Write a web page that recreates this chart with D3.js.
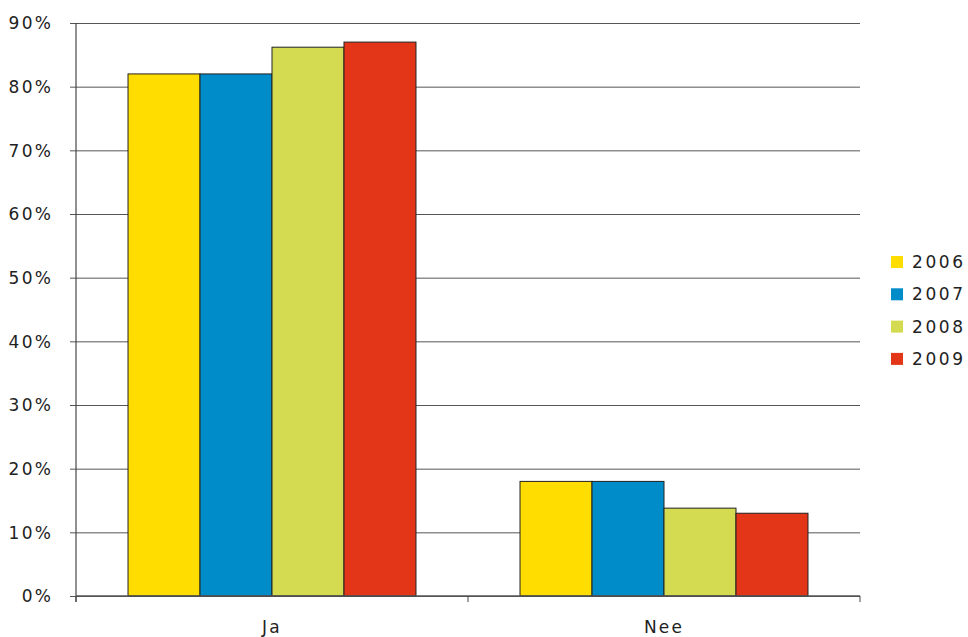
<!DOCTYPE html>
<html>
<head>
<meta charset="utf-8">
<script src="https://cdn.jsdelivr.net/npm/d3@7"></script>
<style>
	body { margin: 0; background: #fff; }
	text { font-family: "DejaVu Sans", sans-serif; fill: #222; }
</style>
</head>
<body>
<div id="visual"></div>
<script>

///// DATA /////
var categories = ["Ja", "Nee"];
var years = ["2006", "2007", "2008", "2009"];
var values2006 = [82, 18];
var values2007 = [82, 18];
var values2008 = [86.2, 13.8];
var values2009 = [87, 13];
var yTicks = [0, 10, 20, 30, 40, 50, 60, 70, 80, 90];
var colors = ["#ffdd00", "#008bc9", "#d4db50", "#e33618"];

var series = [values2006, values2007, values2008, values2009];

///// DIMENSIONS /////
var margins = { left: 76, right: 108, top: 23, bottom: 41 };
var W = 968, H = 637;
var width = W - margins.left - margins.right,
	height = H - margins.top - margins.bottom;

var svg = d3.select('#visual').append('svg')
	.attr('width', W).attr('height', H);

var xScale = d3.scaleBand().domain(categories).range([0, width]).padding(0);
var inner = d3.scaleBand().domain(years)
	.range([xScale.bandwidth() * 0.1327, xScale.bandwidth() * 0.8673]);
var yScale = d3.scaleLinear().domain([0, 90]).range([height, 0]);

var g = svg.append('g')
	.attr('transform', `translate(${margins.left},${margins.top})`);

///// GRID /////
g.append('g')
	.call(d3.axisLeft(yScale).tickValues(yTicks).tickSize(-width).tickFormat(''))
	.call(s => s.select('.domain').remove())
	.selectAll('line').attr('stroke', '#555').attr('stroke-width', 1);

// y ticks + labels
var yAxis = g.append('g')
	.call(d3.axisLeft(yScale).tickValues(yTicks).tickSize(6).tickPadding(17)
		.tickFormat(d => d + '%'));
yAxis.select('.domain').attr('stroke', '#222').attr('d', `M0,0V${height + 6}`);
yAxis.selectAll('line').attr('stroke', '#555');
yAxis.selectAll('text')
	.style('font-size', '17px')
	.style('letter-spacing', '2.2px')
	.attr('fill', '#222')
	.attr('dy', '0.35em');

///// BARS /////
years.forEach(function(yr, i) {
	g.selectAll('.bar' + i)
		.data(categories).enter().append('rect')
		.attr('x', d => xScale(d) + inner(yr))
		.attr('y', (d, j) => yScale(series[i][j]))
		.attr('width', inner.bandwidth())
		.attr('height', (d, j) => height - yScale(series[i][j]))
		.attr('fill', colors[i])
		.attr('stroke', '#222')
		.attr('stroke-width', 1);
});

///// X AXIS /////
var xAxis = g.append('g')
	.attr('transform', `translate(0,${height})`);
xAxis.append('line')
	.attr('x1', 0).attr('x2', width).attr('stroke', '#555').attr('stroke-width', 1.5);
xAxis.selectAll('.xt')
	.data([0, xScale.bandwidth(), width]).enter().append('line')
	.attr('x1', d => d).attr('x2', d => d)
	.attr('y1', 0).attr('y2', 6).attr('stroke', '#444');
xAxis.selectAll('.xl')
	.data(categories).enter().append('text')
	.attr('x', d => xScale(d) + xScale.bandwidth() / 2)
	.attr('y', 37)
	.attr('text-anchor', 'middle')
	.style('font-size', '17px')
	.style('letter-spacing', '2.2px')
	.text(d => d);

///// LEGEND /////
var legend = svg.selectAll('.legend')
	.data(years).enter().append('g')
	.attr('transform', (d, i) => `translate(891,${256 + i * 32.3})`);
legend.append('rect')
	.attr('width', 12).attr('height', 12)
	.attr('fill', (d, i) => colors[i]);
legend.append('text')
	.attr('x', 21).attr('y', 6).attr('dy', '0.35em')
	.style('font-size', '17px')
	.style('letter-spacing', '2.6px')
	.text(d => d);

</script>
</body>
</html>
